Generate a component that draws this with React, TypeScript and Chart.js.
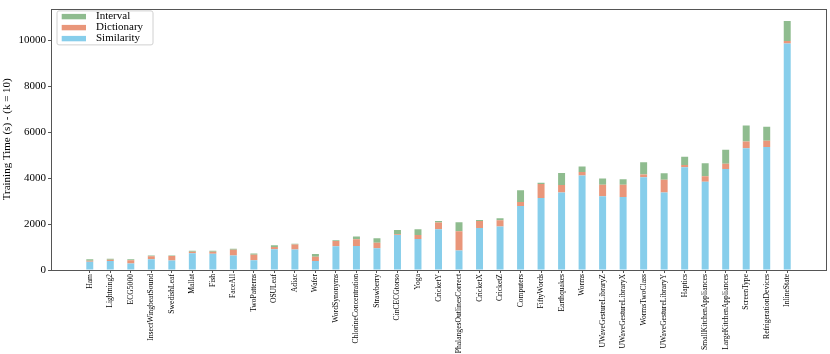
import React, { useEffect, useRef } from "react";
import { Chart, registerables } from "chart.js";

Chart.register(...registerables);

const categories = [
  "Ham", "Lightning2", "ECG5000", "InsectWingbeatSound", "SwedishLeaf", "Mallat", "Fish", "FaceAll",
  "TwoPatterns", "OSULeaf", "Adiac", "Wafer", "WordSynonyms", "ChlorineConcentration", "Strawberry",
  "CinCECGtorso", "Yoga", "CricketY", "PhalangesOutlinesCorrect", "CricketX", "CricketZ", "Computers",
  "FiftyWords", "Earthquakes", "Worms", "UWaveGestureLibraryZ", "UWaveGestureLibraryX", "WormsTwoClass",
  "UWaveGestureLibraryY", "Haptics", "SmallKitchenAppliances", "LargeKitchenAppliances", "ScreenType",
  "RefrigerationDevices", "InlineState",
];

const similarity = [
  360, 395, 280, 465, 410, 730, 705, 635, 430, 900, 890, 390, 1030, 1045, 945, 1520, 1350, 1775, 845,
  1830, 1900, 2790, 3140, 3380, 4115, 3215, 3185, 4045, 3380, 4480, 3850, 4400, 5300, 5355, 9865,
];
const dictionary = [
  45, 55, 140, 130, 195, 60, 85, 250, 230, 105, 220, 190, 230, 295, 240, 40, 170, 295, 845,
  300, 265, 170, 610, 325, 155, 505, 525, 115, 550, 100, 240, 225, 295, 280, 115,
];
const interval = [
  65, 45, 45, 40, 30, 45, 50, 45, 55, 70, 35, 120, 40, 125, 200, 185, 255, 70, 395,
  50, 85, 520, 55, 520, 240, 270, 240, 535, 285, 355, 560, 620, 705, 610, 875,
];

const yTicks = [0, 2000, 4000, 6000, 8000, 10000];

const SERIF = "'Liberation Serif', 'Times New Roman', serif";

const framePlugin = {
  id: "frameAndLegend",
  afterDraw(chart: any) {
    const { ctx, chartArea: a } = chart;
    ctx.save();
    ctx.strokeStyle = "#555";
    ctx.lineWidth = 1;
    ctx.strokeRect(Math.round(a.left) + 0.5, Math.round(a.top) + 0.5, Math.round(a.right - a.left), Math.round(a.bottom - a.top));

    const x0 = a.left + 6;
    const y0 = a.top + 2.3;
    const w = 96;
    const h = 34;
    ctx.beginPath();
    const r = 2;
    ctx.moveTo(x0 + r, y0);
    ctx.lineTo(x0 + w - r, y0);
    ctx.quadraticCurveTo(x0 + w, y0, x0 + w, y0 + r);
    ctx.lineTo(x0 + w, y0 + h - r);
    ctx.quadraticCurveTo(x0 + w, y0 + h, x0 + w - r, y0 + h);
    ctx.lineTo(x0 + r, y0 + h);
    ctx.quadraticCurveTo(x0, y0 + h, x0, y0 + h - r);
    ctx.lineTo(x0, y0 + r);
    ctx.quadraticCurveTo(x0, y0, x0 + r, y0);
    ctx.closePath();
    ctx.fillStyle = "rgba(255,255,255,0.85)";
    ctx.fill();
    ctx.strokeStyle = "#d0d0d0";
    ctx.stroke();

    const ds = [...chart.data.datasets].reverse();
    ctx.font = "11px " + SERIF;
    ctx.textBaseline = "middle";
    ds.forEach((d: any, i: number) => {
      const cy = y0 + 5.7 + i * 11;
      ctx.fillStyle = d.backgroundColor;
      ctx.fillRect(x0 + 4.7, cy - 2.7, 24.3, 5.4);
      ctx.fillStyle = "#000";
      ctx.fillText(d.label, x0 + 39, cy);
    });
    ctx.restore();
  },
};

export default function App() {
  const ref = useRef<HTMLCanvasElement>(null);

  useEffect(() => {
    if (!ref.current) return;
    const mk = (arr: number[]) => arr.map((v, i) => ({ x: i, y: v }));
    const chart = new Chart(ref.current, {
      type: "bar",
      data: {
        datasets: [
          { label: "Similarity", data: mk(similarity), backgroundColor: "#87CEEB", categoryPercentage: 1, barPercentage: 0.34 },
          { label: "Dictionary", data: mk(dictionary), backgroundColor: "#E9967A", categoryPercentage: 1, barPercentage: 0.34 },
          { label: "Interval", data: mk(interval), backgroundColor: "#8FBC8F", categoryPercentage: 1, barPercentage: 0.34 },
        ] as any,
      },
      options: {
        animation: false,
        responsive: true,
        maintainAspectRatio: false,
        layout: { padding: { top: 2, right: 4, left: 0, bottom: 0 } },
        plugins: { legend: { display: false }, tooltip: { enabled: false } },
        scales: {
          x: {
            type: "linear",
            stacked: true,
            min: -1.89,
            max: 35.89,
            offset: false,
            afterBuildTicks: (scale: any) => {
              scale.ticks = categories.map((_, i) => ({ value: i }));
            },
            afterFit: (scale: any) => {
              scale.height = 84;
            },
            ticks: {
              autoSkip: false,
              minRotation: 90,
              maxRotation: 90,
              padding: 1,
              color: "#000",
              font: { family: SERIF, size: 7.6 },
              callback: (v: any) => categories[v] ?? "",
            },
            grid: { offset: false, drawOnChartArea: false, drawTicks: true, tickLength: 3, color: "#555" },
            border: { display: false },
          },
          y: {
            type: "linear",
            stacked: true,
            min: 0,
            max: 11390,
            afterBuildTicks: (scale: any) => {
              scale.ticks = yTicks.map((v) => ({ value: v }));
            },
            afterFit: (scale: any) => {
              scale.width = 51;
            },
            ticks: {
              padding: 2,
              color: "#000",
              font: { family: SERIF, size: 11 },
              callback: (v: any) => String(v),
            },
            title: {
              display: true,
              text: "Training Time (s) - (k = 10)",
              color: "#000",
              font: { family: SERIF, size: 11 },
              padding: { top: 1, bottom: 0 },
            },
            grid: { offset: false, drawOnChartArea: false, drawTicks: true, tickLength: 3, color: "#555" },
            border: { display: false },
          },
        },
      } as any,
      plugins: [framePlugin],
    });
    return () => chart.destroy();
  }, []);

  return (
    <div style={{ position: "fixed", left: 0, top: 0, width: 830, height: 354 }}>
      <canvas ref={ref} />
    </div>
  );
}
